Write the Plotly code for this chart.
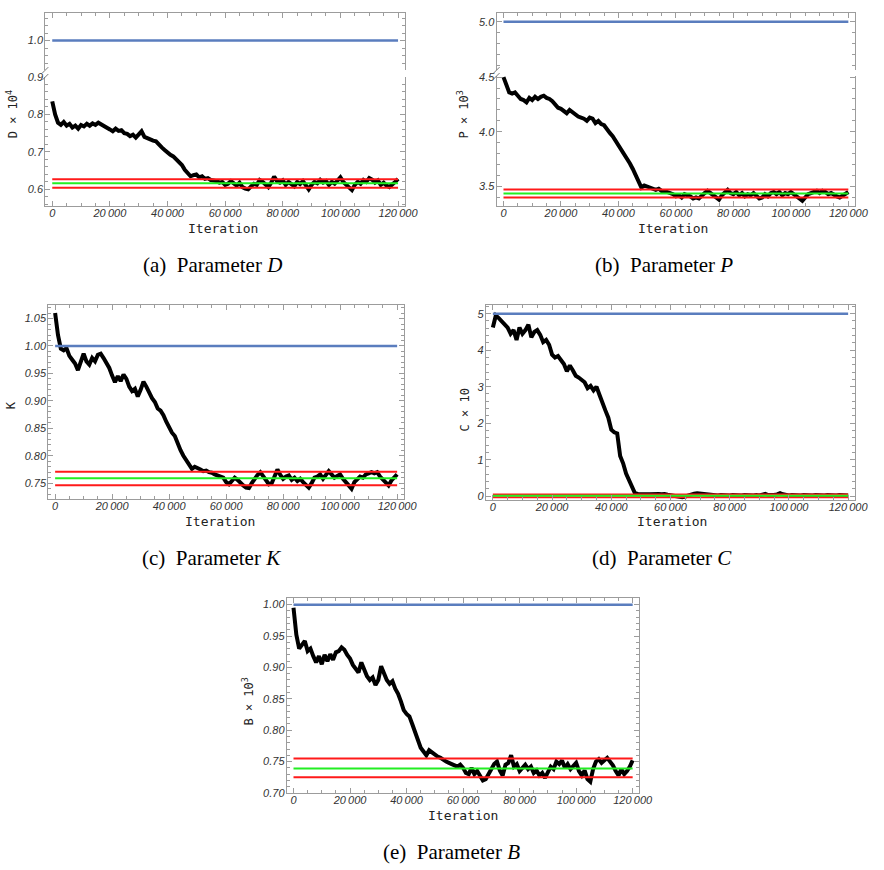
import plotly.graph_objects as go

# ---------------- data ----------------
ITERATIONS = list(range(0, 120001, 1000))

D_TRACE = [0.835, 0.800, 0.778, 0.772, 0.780, 0.770, 0.775, 0.765, 0.770, 0.762,
           0.772, 0.768, 0.775, 0.770, 0.776, 0.772, 0.778, 0.774, 0.770, 0.765,
           0.760, 0.755, 0.762, 0.756, 0.758, 0.750, 0.748, 0.742, 0.746, 0.738,
           0.748, 0.755, 0.740, 0.736, 0.732, 0.730, 0.728, 0.718, 0.712, 0.705,
           0.698, 0.692, 0.688, 0.680, 0.675, 0.665, 0.652, 0.642, 0.635, 0.638,
           0.640, 0.632, 0.635, 0.628, 0.630, 0.625, 0.624, 0.622, 0.618, 0.620,
           0.612, 0.615, 0.622, 0.616, 0.610, 0.618, 0.606, 0.602, 0.600, 0.608,
           0.615, 0.612, 0.625, 0.620, 0.612, 0.606, 0.618, 0.634, 0.622, 0.618,
           0.624, 0.612, 0.620, 0.615, 0.608, 0.620, 0.614, 0.622, 0.610, 0.600,
           0.612, 0.620, 0.616, 0.625, 0.618, 0.622, 0.612, 0.620, 0.615, 0.624,
           0.632, 0.620, 0.612, 0.606, 0.598, 0.612, 0.620, 0.615, 0.625, 0.620,
           0.630, 0.626, 0.618, 0.624, 0.612, 0.618, 0.610, 0.606, 0.615, 0.620,
           0.628]

P_TRACE = [4.50, 4.42, 4.36, 4.35, 4.36, 4.33, 4.30, 4.29, 4.27, 4.31,
           4.29, 4.32, 4.30, 4.32, 4.33, 4.31, 4.30, 4.28, 4.25, 4.22,
           4.21, 4.19, 4.17, 4.20, 4.18, 4.15, 4.14, 4.13, 4.12, 4.10,
           4.13, 4.12, 4.08, 4.10, 4.07, 4.06, 4.02, 3.99, 3.96, 3.92,
           3.88, 3.83, 3.80, 3.76, 3.71, 3.66, 3.60, 3.54, 3.49, 3.51,
           3.50, 3.49, 3.48, 3.47, 3.48, 3.46, 3.46, 3.45, 3.44, 3.43,
           3.41, 3.42, 3.40, 3.43, 3.42, 3.41, 3.39, 3.40, 3.39, 3.42,
           3.44, 3.46, 3.44, 3.42, 3.39, 3.38, 3.42, 3.45, 3.47, 3.44,
           3.43, 3.45, 3.42, 3.44, 3.41, 3.43, 3.42, 3.44, 3.41, 3.39,
           3.40, 3.43, 3.41, 3.44, 3.45, 3.43, 3.45, 3.42, 3.44, 3.43,
           3.45, 3.43, 3.41, 3.39, 3.37, 3.40, 3.43, 3.44, 3.45, 3.46,
           3.44, 3.46, 3.45, 3.43, 3.44, 3.42, 3.41, 3.40, 3.42, 3.43,
           3.45]

K_TRACE = [1.060, 1.020, 0.995, 0.992, 0.996, 0.982, 0.975, 0.968, 0.956, 0.970,
           0.986, 0.972, 0.966, 0.978, 0.972, 0.984, 0.986, 0.978, 0.970, 0.960,
           0.946, 0.934, 0.945, 0.936, 0.948, 0.940, 0.926, 0.918, 0.922, 0.908,
           0.920, 0.935, 0.926, 0.914, 0.905, 0.898, 0.886, 0.882, 0.874, 0.862,
           0.850, 0.842, 0.836, 0.822, 0.810, 0.800, 0.792, 0.782, 0.776, 0.780,
           0.778, 0.775, 0.772, 0.773, 0.770, 0.769, 0.766, 0.764, 0.762, 0.760,
           0.752, 0.748, 0.754, 0.760, 0.756, 0.750, 0.746, 0.742, 0.741, 0.750,
           0.758, 0.765, 0.770, 0.762, 0.755, 0.748, 0.750, 0.762, 0.775, 0.765,
           0.758, 0.762, 0.764, 0.756, 0.760, 0.754, 0.758, 0.752, 0.748, 0.742,
           0.750, 0.760, 0.762, 0.766, 0.758, 0.764, 0.772, 0.766, 0.760, 0.763,
           0.766, 0.758, 0.752, 0.745, 0.740, 0.752, 0.758, 0.762, 0.760, 0.766,
           0.768, 0.770, 0.768, 0.770, 0.762, 0.756, 0.752, 0.746, 0.755, 0.760,
           0.766]

C_TRACE = [4.62, 4.95, 4.88, 4.78, 4.70, 4.62, 4.45, 4.55, 4.28, 4.62,
           4.45, 4.55, 4.70, 4.35, 4.50, 4.55, 4.42, 4.22, 4.28, 4.15,
           3.88, 3.80, 3.84, 3.72, 3.62, 3.42, 3.58, 3.45, 3.30, 3.25,
           3.20, 3.12, 2.96, 3.02, 2.90, 3.00, 2.78, 2.52, 2.35, 2.15,
           1.82, 1.75, 1.72, 1.10, 0.90, 0.62, 0.45, 0.22, 0.08, 0.06,
           0.05, 0.06, 0.05, 0.05, 0.06, 0.05, 0.06, 0.05, 0.06, 0.04,
           0.03, 0.02, 0.00, -0.02, -0.03, -0.01, 0.02, 0.05, 0.07, 0.08,
           0.07, 0.05, 0.04, 0.03, 0.04, 0.03, 0.02, 0.03, 0.02, 0.03,
           0.02, 0.03, 0.02, 0.01, 0.02, 0.03, 0.02, 0.03, 0.02, 0.03,
           0.02, 0.04, 0.06, 0.03, 0.02, 0.03, 0.05, 0.08, 0.05, 0.03,
           0.02, 0.03, 0.02, 0.03, 0.02, 0.03, 0.02, 0.03, 0.02, 0.03,
           0.02, 0.03, 0.02, 0.03, 0.02, 0.03, 0.02, 0.03, 0.02, 0.03,
           0.02]

B_TRACE = [0.995, 0.952, 0.930, 0.935, 0.942, 0.926, 0.930, 0.918, 0.908, 0.918,
           0.905, 0.920, 0.910, 0.921, 0.912, 0.924, 0.926, 0.932, 0.928, 0.920,
           0.914, 0.904, 0.898, 0.892, 0.908, 0.896, 0.886, 0.880, 0.884, 0.872,
           0.880, 0.902, 0.890, 0.880, 0.874, 0.878, 0.866, 0.858, 0.846, 0.832,
           0.826, 0.822, 0.810, 0.796, 0.782, 0.772, 0.766, 0.760, 0.768, 0.764,
           0.762, 0.758, 0.756, 0.752, 0.750, 0.748, 0.746, 0.744, 0.742, 0.745,
           0.740, 0.732, 0.730, 0.740, 0.730, 0.735, 0.726, 0.720, 0.722, 0.730,
           0.740, 0.746, 0.750, 0.736, 0.728, 0.745, 0.748, 0.760, 0.742, 0.746,
           0.735, 0.740, 0.745, 0.738, 0.742, 0.732, 0.736, 0.728, 0.732, 0.724,
           0.734, 0.742, 0.738, 0.750, 0.746, 0.752, 0.740, 0.746, 0.738, 0.744,
           0.748, 0.735, 0.728, 0.736, 0.722, 0.718, 0.738, 0.750, 0.754, 0.748,
           0.752, 0.756, 0.750, 0.744, 0.735, 0.728, 0.738, 0.730, 0.735, 0.742,
           0.752]

# true value, posterior mean, lower and upper credible bounds
D_TRUE, D_MEAN, D_LOW, D_HIGH = 1.0, 0.616, 0.6045, 0.627
P_TRUE, P_MEAN, P_LOW, P_HIGH = 5.0, 3.436, 3.40, 3.473
K_TRUE, K_MEAN, K_LOW, K_HIGH = 1.0, 0.759, 0.7464, 0.771
C_TRUE, C_MEAN, C_LOW, C_HIGH = 5.0, 0.008, -0.03, 0.045
B_TRUE, B_MEAN, B_LOW, B_HIGH = 1.0, 0.739, 0.725, 0.755

X_TICKS = [0, 20000, 40000, 60000, 80000, 100000, 120000]
X_TICK_LABELS = ["0", "20\u2009000", "40\u2009000", "60\u2009000", "80\u2009000",
                 "100\u2009000", "120\u2009000"]

CAPTIONS = ["(a)  Parameter <i>D</i>", "(b)  Parameter <i>P</i>",
            "(c)  Parameter <i>K</i>", "(d)  Parameter <i>C</i>",
            "(e)  Parameter <i>B</i>"]
Y_TITLES = ["D × 10<sup>4</sup>", "P × 10<sup>3</sup>", "K", "C × 10", "B × 10<sup>3</sup>"]

# ---------------- style ----------------
W, H = 884, 870
FRAME = "#9c9c9c"
BLUE = "#5A7DBE"
GREEN = "#22EE22"
RED = "#FF1A1A"
TICKFONT = dict(family="Liberation Sans", size=11, style="italic", color="#333333")
MONO = "DejaVu Sans Mono"
SERIF = "Liberation Serif"
XR = [-2400, 122400]


def xd(l, r):
    return [l / W, r / W]


def yd(t, b):
    return [1 - b / H, 1 - t / H]


def xaxis(dom, anchor, labels=True, side="bottom", mirror="ticks"):
    return dict(domain=dom, anchor=anchor, range=XR, showgrid=False, zeroline=False,
                showline=True, linecolor=FRAME, linewidth=1, mirror=mirror,
                ticks="inside", ticklen=5, tickcolor=FRAME,
                tickvals=X_TICKS, ticktext=X_TICK_LABELS,
                minor=dict(ticks="inside", ticklen=3, tickcolor=FRAME, dtick=5000, tick0=0,
                           showgrid=False),
                tickfont=TICKFONT, showticklabels=labels, side=side, fixedrange=True,
                ticklabelstandoff=-3)


def yaxis(dom, anchor, rng, dtick, mdtick, fmt, tick0=0):
    return dict(domain=dom, anchor=anchor, range=rng, showgrid=False, zeroline=False,
                showline=True, linecolor=FRAME, linewidth=1, mirror="ticks",
                ticks="inside", ticklen=5, tickcolor=FRAME, tick0=tick0, dtick=dtick,
                tickformat=fmt,
                minor=dict(ticks="inside", ticklen=3, tickcolor=FRAME, dtick=mdtick, tick0=tick0,
                           showgrid=False),
                tickfont=TICKFONT, fixedrange=True, ticklabelstandoff=-1)


fig = go.Figure()


def add_trace_line(xa, ya, values):
    fig.add_trace(go.Scatter(x=ITERATIONS, y=values, mode="lines", xaxis=xa, yaxis=ya,
                             line=dict(color="black", width=4), showlegend=False,
                             hoverinfo="skip"))


def add_hline(xa, ya, value, color, width=2):
    fig.add_trace(go.Scatter(x=[ITERATIONS[0], ITERATIONS[-1]], y=[value, value], mode="lines",
                             xaxis=xa, yaxis=ya, line=dict(color=color, width=width),
                             showlegend=False, hoverinfo="skip"))


def add_bands(xa, ya, mean, lo, hi):
    add_hline(xa, ya, hi, RED)
    add_hline(xa, ya, lo, RED)
    add_hline(xa, ya, mean, GREEN)


# (a) D : lower x/y, upper x2/y2
add_trace_line("x", "y", D_TRACE)
add_bands("x", "y", D_MEAN, D_LOW, D_HIGH)
add_hline("x2", "y2", D_TRUE, BLUE, 2.5)
# (b) P : lower x3/y3, upper x4/y4
add_trace_line("x3", "y3", P_TRACE)
add_bands("x3", "y3", P_MEAN, P_LOW, P_HIGH)
add_hline("x4", "y4", P_TRUE, BLUE, 2.5)
# (c) K
add_trace_line("x5", "y5", K_TRACE)
add_hline("x5", "y5", K_TRUE, BLUE, 2.5)
add_bands("x5", "y5", K_MEAN, K_LOW, K_HIGH)
# (d) C
add_trace_line("x6", "y6", C_TRACE)
add_hline("x6", "y6", C_TRUE, BLUE, 2.5)
add_bands("x6", "y6", C_MEAN, C_LOW, C_HIGH)
# (e) B
add_trace_line("x7", "y7", B_TRACE)
add_hline("x7", "y7", B_TRUE, BLUE, 2.5)
add_bands("x7", "y7", B_MEAN, B_LOW, B_HIGH)

layout = dict(width=W, height=H, margin=dict(l=0, r=0, t=0, b=0),
              paper_bgcolor="white", plot_bgcolor="white", showlegend=False)

# panel a
layout["xaxis"] = xaxis(xd(46, 411), "y", mirror=False)
layout["yaxis"] = yaxis(yd(72, 203), "x", [0.555, 0.9], 0.1, 0.02, ".1f")
layout["xaxis2"] = xaxis(xd(46, 411), "y2", labels=False, side="top", mirror=False)
layout["yaxis2"] = yaxis(yd(7, 65), "x2", [0.921, 1.074], 0.1, 0.02, ".1f")
# panel b
layout["xaxis3"] = xaxis(xd(504, 868), "y3", mirror=False)
layout["yaxis3"] = yaxis(yd(71, 203), "x3", [3.32, 4.51], 0.5, 0.1, ".1f")
layout["xaxis4"] = xaxis(xd(504, 868), "y4", labels=False, side="top", mirror=False)
layout["yaxis4"] = yaxis(yd(7, 65), "x4", [4.56, 5.08], 0.5, 0.1, ".1f")
# panel c
layout["xaxis5"] = xaxis(xd(49, 410), "y5")
layout["yaxis5"] = yaxis(yd(303, 500), "x5", [0.721, 1.075], 0.05, 0.01, ".2f")
# panel d
layout["xaxis6"] = xaxis(xd(493, 868), "y6")
layout["yaxis6"] = yaxis(yd(303, 501), "x6", [-0.108, 5.243], 1, 0.2, "d")
# panel e
layout["xaxis7"] = xaxis(xd(291, 649), "y7")
layout["yaxis7"] = yaxis(yd(600, 798), "x7", [0.70, 1.011], 0.05, 0.01, ".2f")

annotations = []


def ann(text, px, py, font, angle=0):
    annotations.append(dict(text=text, x=px / W, y=1 - py / H, xref="paper", yref="paper",
                            xanchor="center", yanchor="middle", showarrow=False,
                            textangle=angle, font=font))


cap_font = dict(family=SERIF, size=21, color="black")
it_font = dict(family=MONO, size=13, color="#222222")
yt_font = dict(family=MONO, size=12, color="#222222")

for text, (px, py) in zip(CAPTIONS, [(216, 263), (674, 263), (215, 560), (672, 560), (458, 858)]):
    ann(text, px, py, cap_font)
for px, py in [(226, 226), (683, 226), (223, 523), (682, 523), (470, 821)]:
    ann("Iteration", px, py, it_font)
for text, (px, py) in zip(Y_TITLES, [(13, 110), (470, 110), (12, 405), (472, 410), (252, 705)]):
    ann(text, px, py, yt_font, angle=-90)

layout["annotations"] = annotations

# axis-break marks
shapes = []
for bx, (t, b) in [(46, (65, 72)), (504, (65, 71))]:
    for yy in (t, b):
        shapes.append(dict(type="line", xref="paper", yref="paper",
                           x0=(bx - 3) / W, x1=(bx + 3) / W,
                           y0=1 - (yy + 3) / H, y1=1 - (yy - 3) / H,
                           line=dict(color="#777777", width=1)))
layout["shapes"] = shapes

fig.update_layout(**layout)
fig.write_html("out.html")
